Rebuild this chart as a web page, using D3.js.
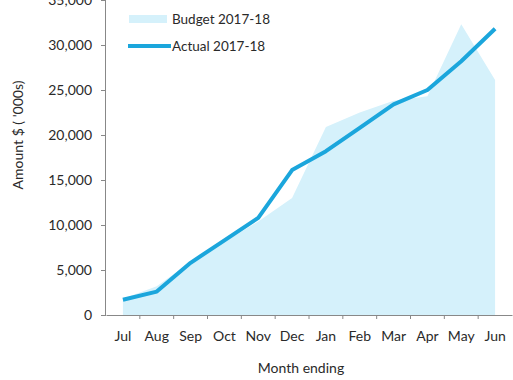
<!DOCTYPE html>
<html><head><meta charset="utf-8">
<script src="https://cdn.jsdelivr.net/npm/d3@7"></script>
<style>
body{margin:0;background:#fff;}
text{font-family:Lato,"Open Sans",sans-serif;fill:#2a2a2a;}
</style></head>
<body><svg id="c" width="513" height="380"></svg>
<script>
const months = ["Jul","Aug","Sep","Oct","Nov","Dec","Jan","Feb","Mar","Apr","May","Jun"];
const budget = [1800,3200,5900,8100,10400,13000,20900,22500,23800,24300,32300,26100];
const actual = [1700,2600,5800,8300,10800,16100,18200,20800,23400,25000,28200,31800];
const yTicks = [0,5000,10000,15000,20000,25000,30000,35000];

const svg = d3.select("#c");
const L = 106, R = 512, T = 0, B = 315;
const FS = 14;
const x = d3.scaleBand().domain(months).range([L,R]).padding(0);
const y = d3.scaleLinear().domain([0,35000]).range([B,T]);
const cx = m => x(m) + x.bandwidth()/2;

// budget area
const area = d3.area().x((d,i)=>cx(months[i])).y0(y(0)).y1(d=>y(d));
svg.append("path").datum(budget).attr("d",area).attr("fill","#d5f1fb");

// actual line
const line = d3.line().x((d,i)=>cx(months[i])).y(d=>y(d));
svg.append("path").datum(actual).attr("d",line).attr("fill","none")
  .attr("stroke","#1ba6dc").attr("stroke-width",4).attr("stroke-linejoin","round");

// y axis
const ya = svg.append("g").attr("transform",`translate(${L},0)`)
  .call(d3.axisLeft(y).tickValues(yTicks).tickSize(5).tickPadding(9).tickFormat(d3.format(",")));
ya.select(".domain").attr("stroke","#888").attr("d",`M-0.5,${B}V${T}`);
ya.selectAll(".tick line").attr("stroke","#888");
ya.selectAll("text").attr("font-size",FS).attr("font-family","Lato,sans-serif").attr("fill","#2a2a2a");

// x axis
const xa = svg.append("g").attr("transform",`translate(0,${B})`)
  .call(d3.axisBottom(x).tickSize(0).tickPadding(16));
xa.select(".domain").attr("stroke","#888");
xa.selectAll("text").attr("font-size",FS).attr("font-family","Lato,sans-serif").attr("fill","#2a2a2a");
xa.selectAll(".bticks").data(months.slice(1)).enter().append("line")
  .attr("x1",d=>x(d)).attr("x2",d=>x(d)).attr("y1",0).attr("y2",4).attr("stroke","#888");

// axis titles
svg.append("text").attr("transform","translate(23,135) rotate(-90)")
  .attr("text-anchor","middle").attr("font-size",FS).text("Amount $ ( '000s)");
svg.append("text").attr("x",301).attr("y",373).attr("text-anchor","middle")
  .attr("font-size",FS).text("Month ending");

// legend
svg.append("rect").attr("x",129).attr("y",15).attr("width",38).attr("height",8).attr("fill","#d5f1fb");
svg.append("text").attr("x",172).attr("y",24).attr("font-size",13.5).text("Budget 2017-18");
svg.append("line").attr("x1",128).attr("x2",171).attr("y1",46).attr("y2",46)
  .attr("stroke","#1ba6dc").attr("stroke-width",4);
svg.append("text").attr("x",172).attr("y",51).attr("font-size",13.5).text("Actual 2017-18");
</script></body></html>
